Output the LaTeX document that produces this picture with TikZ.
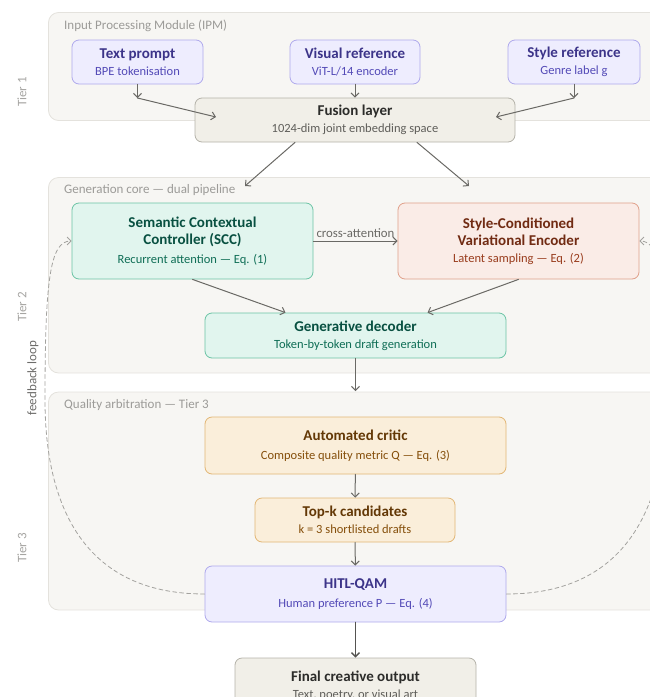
\documentclass[tikz,border=0pt]{standalone}
\usepackage{fontspec}
\setmainfont{Carlito}
\usetikzlibrary{arrows.meta}

\definecolor{panelfill}{HTML}{F7F6F3}
\definecolor{panelline}{HTML}{E4E2DD}
\definecolor{panelText}{HTML}{9C9B98}
\definecolor{lavfill}{HTML}{EEEDFE}
\definecolor{lavline}{HTML}{AFA9EC}
\definecolor{lavtitle}{HTML}{3C3489}
\definecolor{lavsub}{HTML}{534AB7}
\definecolor{tealfill}{HTML}{E1F5EE}
\definecolor{tealline}{HTML}{6CC4A5}
\definecolor{tealtitle}{HTML}{085041}
\definecolor{tealsub}{HTML}{0F6E56}
\definecolor{coralfill}{HTML}{FAECE7}
\definecolor{coralline}{HTML}{E0A08A}
\definecolor{coraltitle}{HTML}{712B13}
\definecolor{coralsub}{HTML}{993C1D}
\definecolor{amberfill}{HTML}{FAEEDA}
\definecolor{amberline}{HTML}{E2B674}
\definecolor{ambertitle}{HTML}{633806}
\definecolor{ambersub}{HTML}{854F0B}
\definecolor{taupefill}{HTML}{F1EFE8}
\definecolor{taupeline}{HTML}{B4B2A9}
\definecolor{taupetitle}{HTML}{2C2C2A}
\definecolor{taupesub}{HTML}{5F5E5A}
\definecolor{arrowgray}{HTML}{6A6965}
\definecolor{loopgray}{HTML}{A3A29E}

\newcommand{\boxtitle}[1]{{\bfseries #1}}
\newcommand{\boxsub}[2]{{\fontsize{12.5}{15}\selectfont\color{#1}#2}}

\begin{document}
\begin{tikzpicture}[>={Straight Barb[length=4pt,width=8pt]}, line cap=round,
  flow/.style={->, draw=arrowgray, line width=1pt},
  fbloop/.style={->, draw=loopgray, line width=0.8pt, dash pattern=on 4pt off 3pt},
  panel/.style={fill=panelfill, draw=panelline, line width=0.8pt, rounded corners=10pt},
  panellabel/.style={anchor=west, inner sep=0pt, text=panelText, font=\fontsize{13}{15}\selectfont},
  tierlabel/.style={rotate=90, text=panelText!90, font=\fontsize{13}{15}\selectfont},
  box/.style={draw, rounded corners=7pt, line width=0.8pt, align=center, inner sep=0pt, font=\fontsize{15}{17}\selectfont, execute at begin node={\rule{0pt}{18pt}}},
  lavbox/.style={box, fill=lavfill, draw=lavline, text=lavtitle},
  tealbox/.style={box, fill=tealfill, draw=tealline, text=tealtitle},
  coralbox/.style={box, fill=coralfill, draw=coralline, text=coraltitle},
  amberbox/.style={box, fill=amberfill, draw=amberline, text=ambertitle},
  taupebox/.style={box, fill=taupefill, draw=taupeline, text=taupetitle},
  auto]
  \clip (0pt, 0pt) rectangle (650pt, -697pt);
  % tier panels
  \draw[panel] (48.5pt, -12.5pt) rectangle (680pt, -120.5pt);
  \draw[panel] (48.5pt, -177.5pt) rectangle (680pt, -373pt);
  \draw[panel] (48.5pt, -392pt) rectangle (680pt, -610pt);
  \draw (64.0pt, -26.0pt)node[panellabel](ipm){Input Processing Module (IPM)};
  \draw (64.0pt, -190.0pt)node[panellabel](core){Generation core — dual pipeline};
  \draw (64.0pt, -405.0pt)node[panellabel](qual){Quality arbitration — Tier 3};
  \draw (22.0pt, -92.0pt)node[tierlabel](t1){Tier 1};
  \draw (22.0pt, -307.0pt)node[tierlabel](t2){Tier 2};
  \draw (22.0pt, -548.0pt)node[tierlabel](t3){Tier 3};
  \draw (33.0pt, -378.0pt)node[tierlabel, text=panelText!70!black](fb){feedback loop};
  % tier 1
  \draw (137.5pt, -62.0pt)node[lavbox, minimum width=131pt, minimum height=44pt](prompt){\boxtitle{Text prompt}\\\boxsub{lavsub}{BPE tokenisation}};
  \draw (355.0pt, -62.0pt)node[lavbox, minimum width=130pt, minimum height=44pt](visual){\boxtitle{Visual reference}\\\boxsub{lavsub}{ViT-L/14 encoder}};
  \draw (574.0pt, -62.0pt)node[lavbox, minimum width=132pt, minimum height=44pt](style){\boxtitle{Style reference}\\\boxsub{lavsub}{Genre label g}};
  \draw (355.0pt, -120.0pt)node[taupebox, minimum width=320pt, minimum height=44pt](fusion){\boxtitle{Fusion layer}\\\boxsub{taupesub}{1024-dim joint embedding space}};
  \coordinate (pbend) at (137.5pt, -98.0pt);
  \coordinate (sbend) at (574.0pt, -98.0pt);
  \coordinate (pin) at (216.0pt, -117.0pt);
  \coordinate (sin) at (496.0pt, -117.0pt);
  \path (prompt) edge[flow] (pbend);
  \path (pbend) edge[flow] (pin);
  \path (visual) edge[flow] (fusion);
  \path (style) edge[flow] (sbend);
  \path (sbend) edge[flow] (sin);
  % tier 2
  \draw (192.5pt, -241.0pt)node[tealbox, minimum width=241pt, minimum height=76pt](scc){\boxtitle{Semantic Contextual}\\\boxtitle{Controller (SCC)}\\[2pt]\boxsub{tealsub}{Recurrent attention — Eq. (1)}};
  \draw (518.5pt, -241.0pt)node[coralbox, minimum width=241pt, minimum height=76pt](sve){\boxtitle{Style-Conditioned}\\\boxtitle{Variational Encoder}\\\boxsub{coralsub}{Latent sampling — Eq. (2)}};
  \draw (355.5pt, -335.5pt)node[tealbox, minimum width=301pt, minimum height=45pt](dec){\boxtitle{Generative decoder}\\\boxsub{tealsub}{Token-by-token draft generation}};
  \coordinate (gleft) at (245.0pt, -186.0pt);
  \coordinate (gright) at (469.0pt, -186.0pt);
  \coordinate (decout) at (355.5pt, -391.0pt);
  \path ([xshift=-60pt]fusion.south) edge[flow] (gleft);
  \path ([xshift=62pt]fusion.south) edge[flow] (gright);
  \path (scc) edge[flow] node[text=arrowgray, font=\fontsize{12.8}{15}\selectfont, inner sep=3pt]{cross-attention} (sve);
  \path (scc.south) edge[flow] ([xshift=-70pt]dec.north);
  \path (sve.south) edge[flow] ([xshift=72pt]dec.north);
  \path (dec) edge[flow] (decout);
  % tier 3
  \draw (355.5pt, -445.5pt)node[amberbox, minimum width=301pt, minimum height=57pt](critic){\boxtitle{Automated critic}\\[2pt]\boxsub{ambersub}{Composite quality metric Q — Eq. (3)}};
  \draw (355.0pt, -520.0pt)node[amberbox, minimum width=200pt, minimum height=44pt](topk){\boxtitle{Top-k candidates}\\\boxsub{ambersub}{k = 3 shortlisted drafts}};
  \draw (355.5pt, -594.0pt)node[lavbox, minimum width=301pt, minimum height=56pt](hitl){\boxtitle{HITL-QAM}\\[2pt]\boxsub{lavsub}{Human preference P — Eq. (4)}};
  \draw (355.5pt, -686.0pt)node[taupebox, minimum width=241pt, minimum height=56pt](final){\boxtitle{Final creative output}\\\boxsub{taupesub}{Text, poetry, or visual art}};
  \path (critic) edge[flow] (topk);
  \path (topk) edge[flow] (hitl);
  \path (hitl) edge[flow, line width=1.4pt, draw=arrowgray!80!black] (final);
  % feedback loop
  \draw[fbloop] (hitl.west) .. controls (80pt, -594pt) and (45pt, -500pt) .. (45pt, -400pt)
    .. controls (45pt, -280pt) and (50pt, -241pt) .. (scc.west);
  \draw[fbloop] (hitl.east) .. controls (631pt, -594pt) and (666pt, -500pt) .. (666pt, -400pt)
    .. controls (666pt, -280pt) and (661pt, -241pt) .. (sve.east);
\end{tikzpicture}
\end{document}
